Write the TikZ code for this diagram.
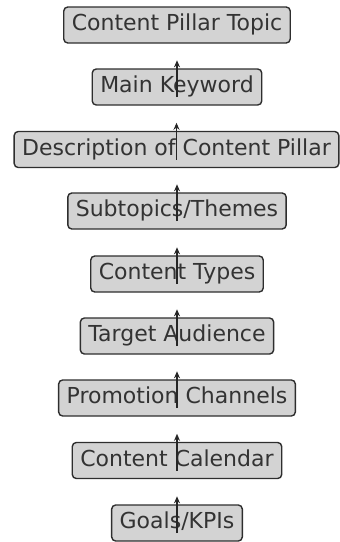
\documentclass[tikz,border=0pt]{standalone}
\usepackage{fontspec}
\setmainfont{DejaVu Sans}
\usetikzlibrary{arrows.meta}
\definecolor{boxfill}{HTML}{D3D3D3}
\definecolor{boxline}{HTML}{2E2E2E}
\definecolor{boxtext}{HTML}{333333}
\tikzset{
  stepbox/.style={draw=boxline, line width=1.4pt, fill=boxfill, rounded corners=4pt,
    text=boxtext, font=\fontsize{22}{26}\selectfont, inner xsep=8pt, inner ysep=0pt,
    minimum height=36pt, text height=16pt, text depth=4.5pt, anchor=center},
  uparrow/.style={draw=black!85, line width=1.3pt, -{Stealth[length=7pt,width=6pt]}}
}
\begin{document}
\begin{tikzpicture}[x=1pt,y=1pt]
\useasboundingbox (0,0) rectangle (340,-542);
\node[stepbox] (n1) at (177,-25)  {Content Pillar Topic};
\node[stepbox] (n2) at (177,-87)  {Main Keyword};
\node[stepbox] (n3) at (176.5,-149.5) {Description of Content Pillar};
\node[stepbox] (n4) at (177,-211) {Subtopics/Themes};
\node[stepbox] (n5) at (177,-274) {Content Types};
\node[stepbox] (n6) at (177,-336) {Target Audience};
\node[stepbox] (n7) at (177,-398) {Promotion Channels};
\node[stepbox] (n8) at (177,-460.5) {Content Calendar};
\node[stepbox] (n9) at (177,-523) {Goals/KPIs};
\foreach \lo in {2,...,9}{
  \draw[uparrow] ([yshift=-10pt]n\lo.center) -- ([yshift=8pt]n\lo.north);
}
\end{tikzpicture}
\end{document}
